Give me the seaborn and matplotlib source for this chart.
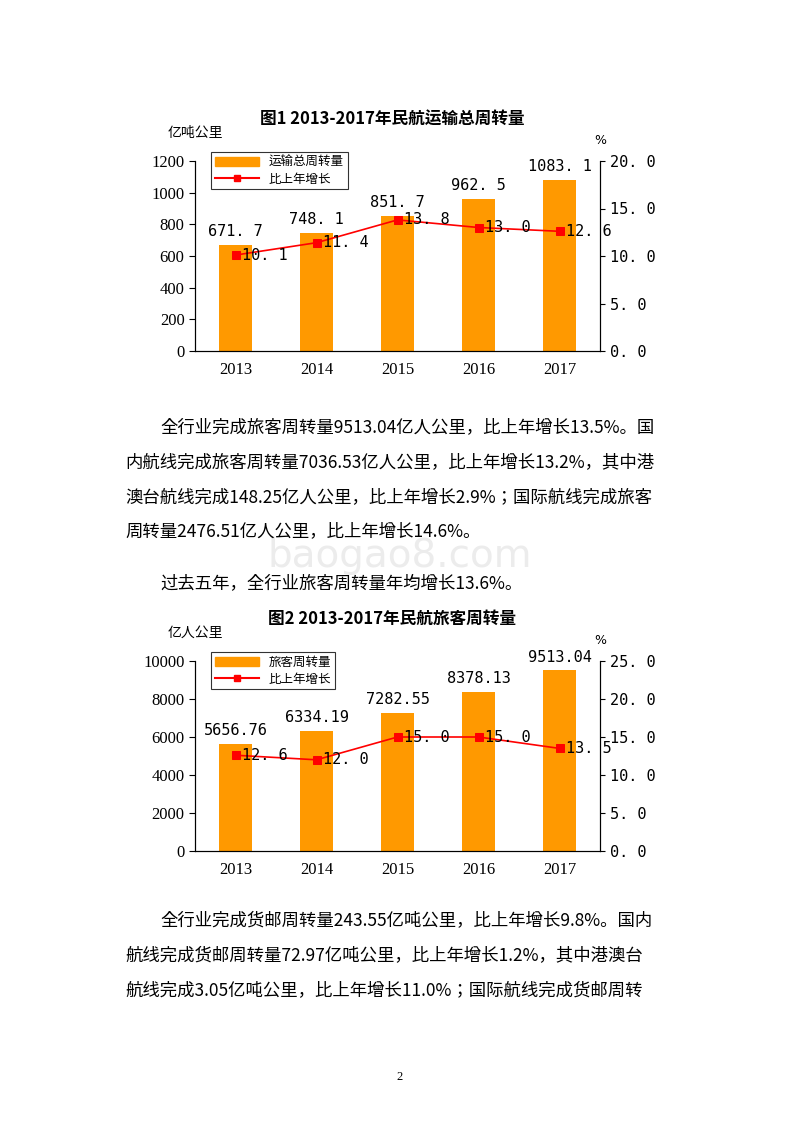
import matplotlib
matplotlib.use("Agg")
import matplotlib.pyplot as plt
import seaborn as sns
import pandas as pd
from matplotlib.lines import Line2D
from matplotlib.patches import Patch

years = ["2013", "2014", "2015", "2016", "2017"]
total_turnover = [671.7, 748.1, 851.7, 962.5, 1083.1]
total_growth = [10.1, 11.4, 13.8, 13.0, 12.6]
pax_turnover = [5656.76, 6334.19, 7282.55, 8378.13, 9513.04]
pax_growth = [12.6, 12.0, 15.0, 15.0, 13.5]
pax_labels = ["5656.76", "6334.19", "7282.55", "8378.13", "9513.04"]

CJK = ["Noto Sans CJK SC", "Noto Sans CJK JP", "Noto Sans CJK TC", "DejaVu Sans"]
SER = "Liberation Serif"
MONO = "DejaVu Sans Mono"
ORANGE = "#FF9900"
RED = "#FF0000"

fig = plt.figure(figsize=(8, 11.32), dpi=100)
H = 1132.0

def fy(p):
    return 1 - p / H

def fmt(g):
    return f"{g:.1f}".replace(".", ". ")

def chart(top_px, vals, growth, labels, ymax, ystep, rmax, title, unit, bar_name):
    ax = fig.add_axes([195 / 800, fy(top_px + 190), 405 / 800, 190 / H])
    df = pd.DataFrame({"year": years, "v": vals})
    sns.barplot(data=df, x="year", y="v", color=ORANGE, width=0.4, ax=ax, saturation=1)
    ax.set_ylim(0, ymax)
    ax.set_yticks(range(0, ymax + 1, ystep))
    ax.set_xlabel(""); ax.set_ylabel("")
    ax.spines["top"].set_visible(False)
    ax.tick_params(axis="x", length=0, pad=8)
    ax.tick_params(axis="y", direction="out", length=4)
    for t in ax.get_xticklabels() + ax.get_yticklabels():
        t.set_fontfamily(SER); t.set_fontsize(12)
    for i, v in enumerate(vals):
        ax.text(i, v + ymax * 0.03, labels[i], ha="center", va="bottom",
                fontfamily=MONO, fontsize=11)
    ax2 = ax.twinx()
    sns.lineplot(x=list(range(5)), y=growth, ax=ax2, color=RED, marker="s",
                 markersize=6, markeredgecolor=RED, linewidth=1.2)
    ax2.set_ylim(0, rmax)
    ticks = [rmax * k / (rmax // 5) for k in range(rmax // 5 + 1)]
    ax2.set_yticks(ticks)
    ax2.set_yticklabels([fmt(t) for t in ticks], fontfamily=MONO, fontsize=11)
    ax2.spines["top"].set_visible(False)
    ax2.set_xlim(-0.5, 4.5)
    for i, g in enumerate(growth):
        ax2.text(i + 0.08, g, fmt(g), ha="left", va="center",
                 fontfamily=MONO, fontsize=11)
    fig.text(392 / 800, fy(top_px - 42), title, ha="center", va="center",
             fontfamily=CJK, fontsize=12, fontweight="bold")
    fig.text(168 / 800, fy(top_px - 28), unit, ha="left", va="center",
             fontfamily=CJK, fontsize=10)
    fig.text(600 / 800, fy(top_px - 21), "%", ha="center", va="center", fontsize=9)
    handles = [Patch(color=ORANGE),
               Line2D([0], [0], color=RED, marker="s", markersize=5)]
    leg = ax2.legend(handles, [bar_name, "比上年增长"], loc="upper left",
                     bbox_to_anchor=(0.025, 1.08), prop={"family": CJK, "size": 9},
                     frameon=True, fancybox=False, edgecolor="black",
                     handlelength=3.5, borderpad=0.3, labelspacing=0.3)
    leg.get_frame().set_linewidth(0.8)

chart(161, total_turnover, total_growth, [fmt(v) for v in total_turnover],
      1200, 200, 20, "图1 2013-2017年民航运输总周转量", "亿吨公里", "运输总周转量")
chart(661, pax_turnover, pax_growth, pax_labels,
      10000, 2000, 25, "图2 2013-2017年民航旅客周转量", "亿人公里", "旅客周转量")

fig.text(400 / 800, fy(556), "baogao8.com", ha="center", va="center",
         fontsize=28, color="#ececec", zorder=-1)

para1 = ["全行业完成旅客周转量9513.04亿人公里，比上年增长13.5%。国",
         "内航线完成旅客周转量7036.53亿人公里，比上年增长13.2%，其中港",
         "澳台航线完成148.25亿人公里，比上年增长2.9%；国际航线完成旅客",
         "周转量2476.51亿人公里，比上年增长14.6%。"]
ys1 = [427, 462, 497, 531]
for i, (s, y) in enumerate(zip(para1, ys1)):
    x = 160 if i == 0 else 125
    fig.text(x / 800, fy(y), s, ha="left", va="center", fontfamily=CJK, fontsize=12.5)
fig.text(160 / 800, fy(583), "过去五年，全行业旅客周转量年均增长13.6%。",
         ha="left", va="center", fontfamily=CJK, fontsize=12.5)

para2 = ["全行业完成货邮周转量243.55亿吨公里，比上年增长9.8%。国内",
         "航线完成货邮周转量72.97亿吨公里，比上年增长1.2%，其中港澳台",
         "航线完成3.05亿吨公里，比上年增长11.0%；国际航线完成货邮周转"]
ys2 = [920, 955, 990]
for i, (s, y) in enumerate(zip(para2, ys2)):
    x = 160 if i == 0 else 125
    fig.text(x / 800, fy(y), s, ha="left", va="center", fontfamily=CJK, fontsize=12.5)
fig.text(400 / 800, fy(1077), "2", ha="center", va="center", fontfamily=SER, fontsize=9)

fig.savefig("out.png", dpi=100)
